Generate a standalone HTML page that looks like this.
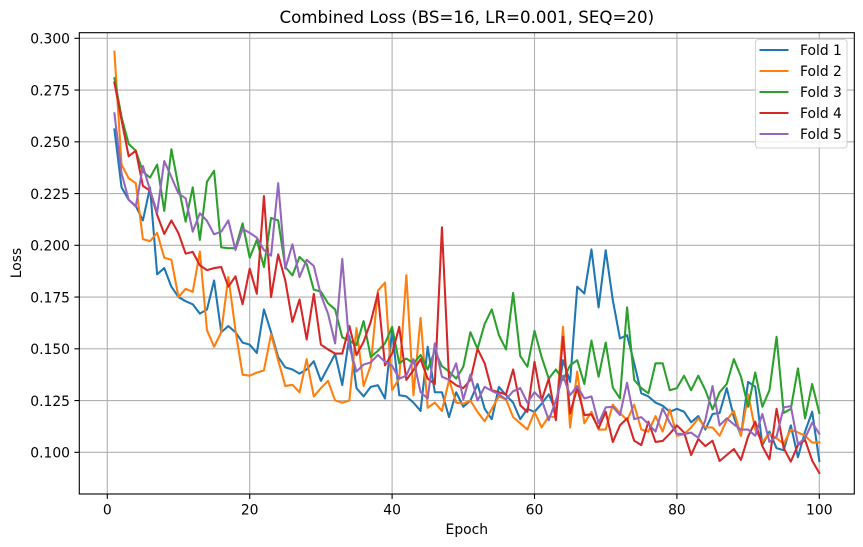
<!DOCTYPE html>
<html lang="en">
<head>
<meta charset="utf-8">
<title>Combined Loss</title>
<style>
html,body{margin:0;padding:0;background:#fff;width:863px;height:547px;overflow:hidden}
svg{display:block}
text{font-family:"DejaVu Sans","Liberation Sans",sans-serif;fill:#000}
</style>
</head>
<body>
<svg id="chart" xmlns="http://www.w3.org/2000/svg" width="863" height="547" viewBox="0 0 863 547">
<rect x="0" y="0" width="863" height="547" fill="#fff"/>
<g id="grid"></g>
<g id="series"></g>
<rect x="79.3" y="32.7" width="775" height="461.3" fill="none" stroke="#000" stroke-width="1.1"/>
<g id="ticks"></g>
<text x="466.8" y="23" font-size="16.67" text-anchor="middle">Combined Loss (BS=16, LR=0.001, SEQ=20)</text>
<text x="466.8" y="534" font-size="13.89" text-anchor="middle">Epoch</text>
<text x="21" y="263" font-size="13.89" text-anchor="middle" transform="rotate(-90 21 263)">Loss</text>
<g id="legend"></g>
</svg>
<script>
const xTickValues = [0, 20, 40, 60, 80, 100];
const yTickValues = [0.100, 0.125, 0.150, 0.175, 0.200, 0.225, 0.250, 0.275, 0.300];
const yTickLabels = ["0.100", "0.125", "0.150", "0.175", "0.200", "0.225", "0.250", "0.275", "0.300"];
const seriesNames = ["Fold 1", "Fold 2", "Fold 3", "Fold 4", "Fold 5"];
const seriesColors = ["#1f77b4", "#ff7f0e", "#2ca02c", "#d62728", "#9467bd"];
const fold1 = [
.256,.228,.222,.219,.212,.228,.186,.189,.180,.175,
.173,.1715,.167,.169,.183,.158,.161,.158,.153,.152,
.148,.169,.158,.146,.141,.140,.138,.140,.144,.1345,
.141,.1475,.1325,.156,.131,.127,.1316,.1324,.126,.159,
.1276,.127,.124,.120,.151,.129,.129,.117,.129,.122,
.125,.133,.121,.116,.1316,.1276,.124,.116,.121,.1195,
.1235,.128,.120,.1445,.134,.180,.1767,.198,.170,.1976,
.1735,.155,.1566,.143,.1285,.127,.124,.1225,.1196,.121,
.1196,.1145,.1175,.111,.1185,.119,.131,.117,.108,.134,
.1317,.1035,.110,.102,.101,.113,.0976,.110,.1196,.0958];
const fold2 = [
.2935,.239,.2324,.230,.203,.202,.206,.194,.193,.175,
.179,.1775,.197,.159,.151,.158,.1847,.159,.1375,.137,
.1385,.1396,.157,.1445,.132,.1326,.129,.145,.127,.131,
.1345,.125,.124,.125,.16,.132,.142,.178,.182,.130,
.1356,.1856,.1276,.165,.1215,.124,.120,.135,.124,.1235,
.125,.1195,.115,.121,.127,.1255,.117,.114,.111,.1195,
.112,.1174,.117,.1606,.112,.139,.114,.1196,.111,.111,
.123,.119,.1156,.123,.111,.110,.1175,.110,.1207,.108,
.1087,.112,.1164,.112,.112,.108,.1156,.120,.108,.128,
.111,.105,.109,.1068,.104,.111,.1096,.108,.1047,.1048];
const fold3 = [
.2807,.262,.249,.2457,.2356,.2327,.239,.2166,.2464,.2283,
.2114,.228,.2026,.2307,.236,.199,.1986,.1986,.2106,.194,
.2026,.1895,.2132,.212,.1895,.1855,.1944,.191,.1786,.1776,
.172,.169,.1555,.154,.1518,.1634,.146,.149,.1526,.1606,
.143,.1453,.143,.147,.140,.149,.1416,.139,.1356,.1413,
.158,.150,.162,.169,.1566,.1497,.177,.1465,.1413,.1587,
.146,.1356,.140,.135,.142,.1445,.133,.154,.1365,.153,
.1313,.126,.170,.135,.131,.1285,.143,.143,.130,.131,
.137,.130,.137,.130,.1207,.129,.133,.145,.1365,.122,
.1386,.122,.130,.1558,.119,.121,.1405,.1164,.133,.119];
const fold4 = [
.2786,.2605,.243,.2457,.2287,.2264,.2147,.2055,.212,.2058,
.196,.1968,.1903,.188,.189,.1895,.180,.185,.1715,.1887,
.1766,.2238,.175,.1956,.183,.163,.1738,.1545,.1766,.152,
.1497,.1477,.1477,.161,.147,.1534,.163,.1768,.142,.1477,
.1606,.135,.1397,.145,.1356,.133,.2087,.135,.1324,.131,
.135,.150,.143,.130,.129,.128,.140,.1227,.1195,.1437,
.125,.1356,.1155,.1558,.1187,.131,.118,.1183,.1116,.1196,
.105,.113,.1164,.1056,.1035,.1148,.105,.1055,.109,.113,
.1096,.0987,.1064,.103,.1056,.0958,.0987,.1016,.0963,.1076,
.1148,.103,.0966,.121,.102,.0955,.1035,.106,.096,.090];
const fold5 = [
.2638,.2348,.222,.2187,.2383,.2267,.2158,.2407,.233,.225,
.2227,.2066,.2155,.2118,.2053,.2066,.212,.1977,.208,.206,
.2037,.1977,.195,.230,.1887,.2005,.1847,.193,.19,.176,
.167,.1526,.1934,.151,.139,.1424,.1434,.147,.1437,.1418,
.1356,.137,.145,.129,.126,.1526,.1365,.135,.143,.1255,
.1376,.125,.1316,.1297,.128,.1256,.1295,.131,.124,.129,
.1255,.1155,.125,.137,.1276,.132,.126,.127,.114,.1217,
.122,.118,.1336,.116,.117,.1137,.110,.1212,.1143,.109,
.1088,.1095,.107,.1156,.132,.113,.1164,.1135,.111,.111,
.108,.1185,.105,.1076,.1217,.1223,.104,.1068,.1143,.109];
const allSeries = [fold1, fold2, fold3, fold4, fold5];

const NS = "http://www.w3.org/2000/svg";
const xScale = function (v) { return 107.3 + v * 7.12; };
const yScale = function (v) { return 452.3 - (v - 0.1) * 2070; };
const mk = function (tag, parent) {
  const el = document.createElementNS(NS, tag);
  parent.appendChild(el);
  return el;
};
const gridG = document.getElementById("grid");
const ticksG = document.getElementById("ticks");
const seriesG = document.getElementById("series");
const legendG = document.getElementById("legend");

xTickValues.forEach(function (t) {
  const x = xScale(t);
  const g = mk("line", gridG);
  
  
  g.setAttribute("x1", x); g.setAttribute("x2", x);
  g.setAttribute("y1", 32.7); g.setAttribute("y2", 494);
  g.setAttribute("stroke", "#b0b0b0"); g.setAttribute("stroke-width", "1.1");
  const m = mk("line", ticksG);
  
  
  m.setAttribute("x1", x); m.setAttribute("x2", x);
  m.setAttribute("y1", 494); m.setAttribute("y2", 498.9);
  m.setAttribute("stroke", "#000"); m.setAttribute("stroke-width", "1.1");
  const l = mk("text", ticksG);
  
  
  l.setAttribute("x", x); l.setAttribute("y", 514.5);
  l.setAttribute("font-size", "13.89"); l.setAttribute("text-anchor", "middle");
  l.textContent = String(t);
});
yTickValues.forEach(function (t, i) {
  const y = yScale(t);
  const g = mk("line", gridG);
  
  
  g.setAttribute("x1", 79.3); g.setAttribute("x2", 854.3);
  g.setAttribute("y1", y); g.setAttribute("y2", y);
  g.setAttribute("stroke", "#b0b0b0"); g.setAttribute("stroke-width", "1.1");
  const m = mk("line", ticksG);
  
  
  m.setAttribute("x1", 74.4); m.setAttribute("x2", 79.3);
  m.setAttribute("y1", y); m.setAttribute("y2", y);
  m.setAttribute("stroke", "#000"); m.setAttribute("stroke-width", "1.1");
  const l = mk("text", ticksG);
  
  
  l.setAttribute("x", 70); l.setAttribute("y", y + 5.2);
  l.setAttribute("font-size", "13.89"); l.setAttribute("text-anchor", "end");
  l.textContent = yTickLabels[i];
});
allSeries.forEach(function (vals, s) {
  const p = mk("polyline", seriesG);
  
  
  p.setAttribute("points", vals.map(function (v, i) {
    return xScale(i + 1).toFixed(2) + "," + yScale(v).toFixed(2);
  }).join(" "));
  p.setAttribute("fill", "none");
  p.setAttribute("stroke", seriesColors[s]);
  p.setAttribute("stroke-width", "2.08");
  p.setAttribute("stroke-linejoin", "round");
  p.setAttribute("stroke-linecap", "square");
});
const box = mk("rect", legendG);


box.setAttribute("x", 755.5); box.setAttribute("y", 39.5);
box.setAttribute("width", 91.5); box.setAttribute("height", 108.5);
box.setAttribute("rx", 2.8);
box.setAttribute("fill", "#fff"); box.setAttribute("fill-opacity", "0.8");
box.setAttribute("stroke", "#ccc"); box.setAttribute("stroke-opacity", "0.8");
box.setAttribute("stroke-width", "1.1");
seriesNames.forEach(function (name, i) {
  const y = 50 + i * 21;
  const ln = mk("line", legendG);
  
  
  ln.setAttribute("x1", 759.5); ln.setAttribute("x2", 788.5);
  ln.setAttribute("y1", y); ln.setAttribute("y2", y);
  ln.setAttribute("stroke", seriesColors[i]); ln.setAttribute("stroke-width", "2.08");
  const tx = mk("text", legendG);
  
  
  tx.setAttribute("x", 800); tx.setAttribute("y", y + 5);
  tx.setAttribute("font-size", "13.89");
  tx.textContent = name;
});
</script>
</body>
</html>
